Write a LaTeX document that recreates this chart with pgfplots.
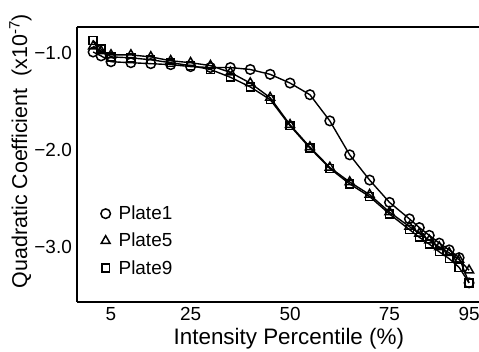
\documentclass[border=0pt]{standalone}
\usepackage{pgfplots}
\pgfplotsset{compat=1.18}
\usepackage{fontspec}
\setmainfont{Liberation Sans}
\pgfplotstableread{
x p1 p5 p9
0.5 -0.99 -0.93 -0.87
2.5 -1.03 -0.98 -0.96
5 -1.09 -1.02 -1.04
10 -1.10 -1.02 -1.05
15 -1.11 -1.04 -1.07
20 -1.12 -1.08 -1.10
25 -1.14 -1.10 -1.13
30 -1.15 -1.13 -1.17
35 -1.15 -1.20 -1.25
40 -1.17 -1.31 -1.35
45 -1.22 -1.46 -1.48
50 -1.31 -1.74 -1.75
55 -1.43 -1.97 -1.98
60 -1.70 -2.18 -2.19
65 -2.05 -2.33 -2.35
70 -2.31 -2.46 -2.48
75 -2.54 -2.64 -2.66
80 -2.71 -2.79 -2.82
82.5 -2.80 -2.86 -2.90
85 -2.88 -2.93 -2.97
87.5 -2.96 -3.00 -3.05
90 -3.03 -3.06 -3.12
92.5 -3.11 -3.13 -3.21
95 -3.37 -3.24 -3.37
}\datatable
\begin{document}
\begin{tikzpicture}
\begin{axis}[
  name=ax,
  scale only axis,
  width=402bp, height=275bp,
  xmin=-3.55, xmax=97.5, ymin=-3.567, ymax=-0.732,
  axis x line*=box, axis y line*=left,
  axis line style={-, line width=1.6pt, black},
  every outer y axis line/.append style={-},
  y axis line style={-},
  xtick={5,25,50,75,95}, xticklabels={5,25,50,75,95},
  ytick={-3,-2,-1}, yticklabels={−3.0,−2.0,−1.0},
  major tick length=0,
  xticklabel style={font=\fontsize{19}{21}\selectfont, inner sep=0pt, anchor=north, yshift=-5bp},
  yticklabel style={font=\fontsize{19}{21}\selectfont, inner sep=0pt, anchor=east, xshift=-5bp},
  xlabel={Intensity Percentile (\%)},
  xlabel style={font=\fontsize{22.5}{26}\selectfont, at={(axis description cs:0.527,0)}, anchor=base, yshift=-43bp},
  ylabel={Quadratic Coefficient\ \ (x10\textsuperscript{-7})},
  ylabel style={font=\fontsize{21.5}{25}\selectfont, at={(axis description cs:-0.124,0.549)}, anchor=base, rotate=0},
  legend style={draw=none, fill=none, at={(axis description cs:0.055,0.355)}, anchor=north west,
    font=\fontsize{19}{21}\selectfont, row sep=9bp, inner sep=0pt,
    nodes={inner sep=1.5bp}},
  legend cell align=left,
  legend image code/.code={\path (0cm,0cm) (0.58cm,0cm); \draw[#1] plot coordinates {(0.2cm,0cm)};},
]
\addplot[black, line width=1.4pt, mark=o, mark size=4.8pt, mark options={line width=1.5pt}] table[x=x,y=p1] {\datatable};
\addlegendentry{Plate1}
\addplot[black, line width=1.4pt, mark=triangle, mark size=5.2pt, mark options={line width=1.5pt}] table[x=x,y=p5] {\datatable};
\addlegendentry{Plate5}
\addplot[black, line width=1.4pt, mark=square, mark size=3.9pt, mark options={line width=1.5pt}] table[x=x,y=p9] {\datatable};
\addlegendentry{Plate9}
\end{axis}
\pgfresetboundingbox
\path[use as bounding box] ([xshift=-77bp,yshift=-50bp]ax.south west) rectangle ([yshift=27bp]ax.north east);
\end{tikzpicture}
\end{document}
